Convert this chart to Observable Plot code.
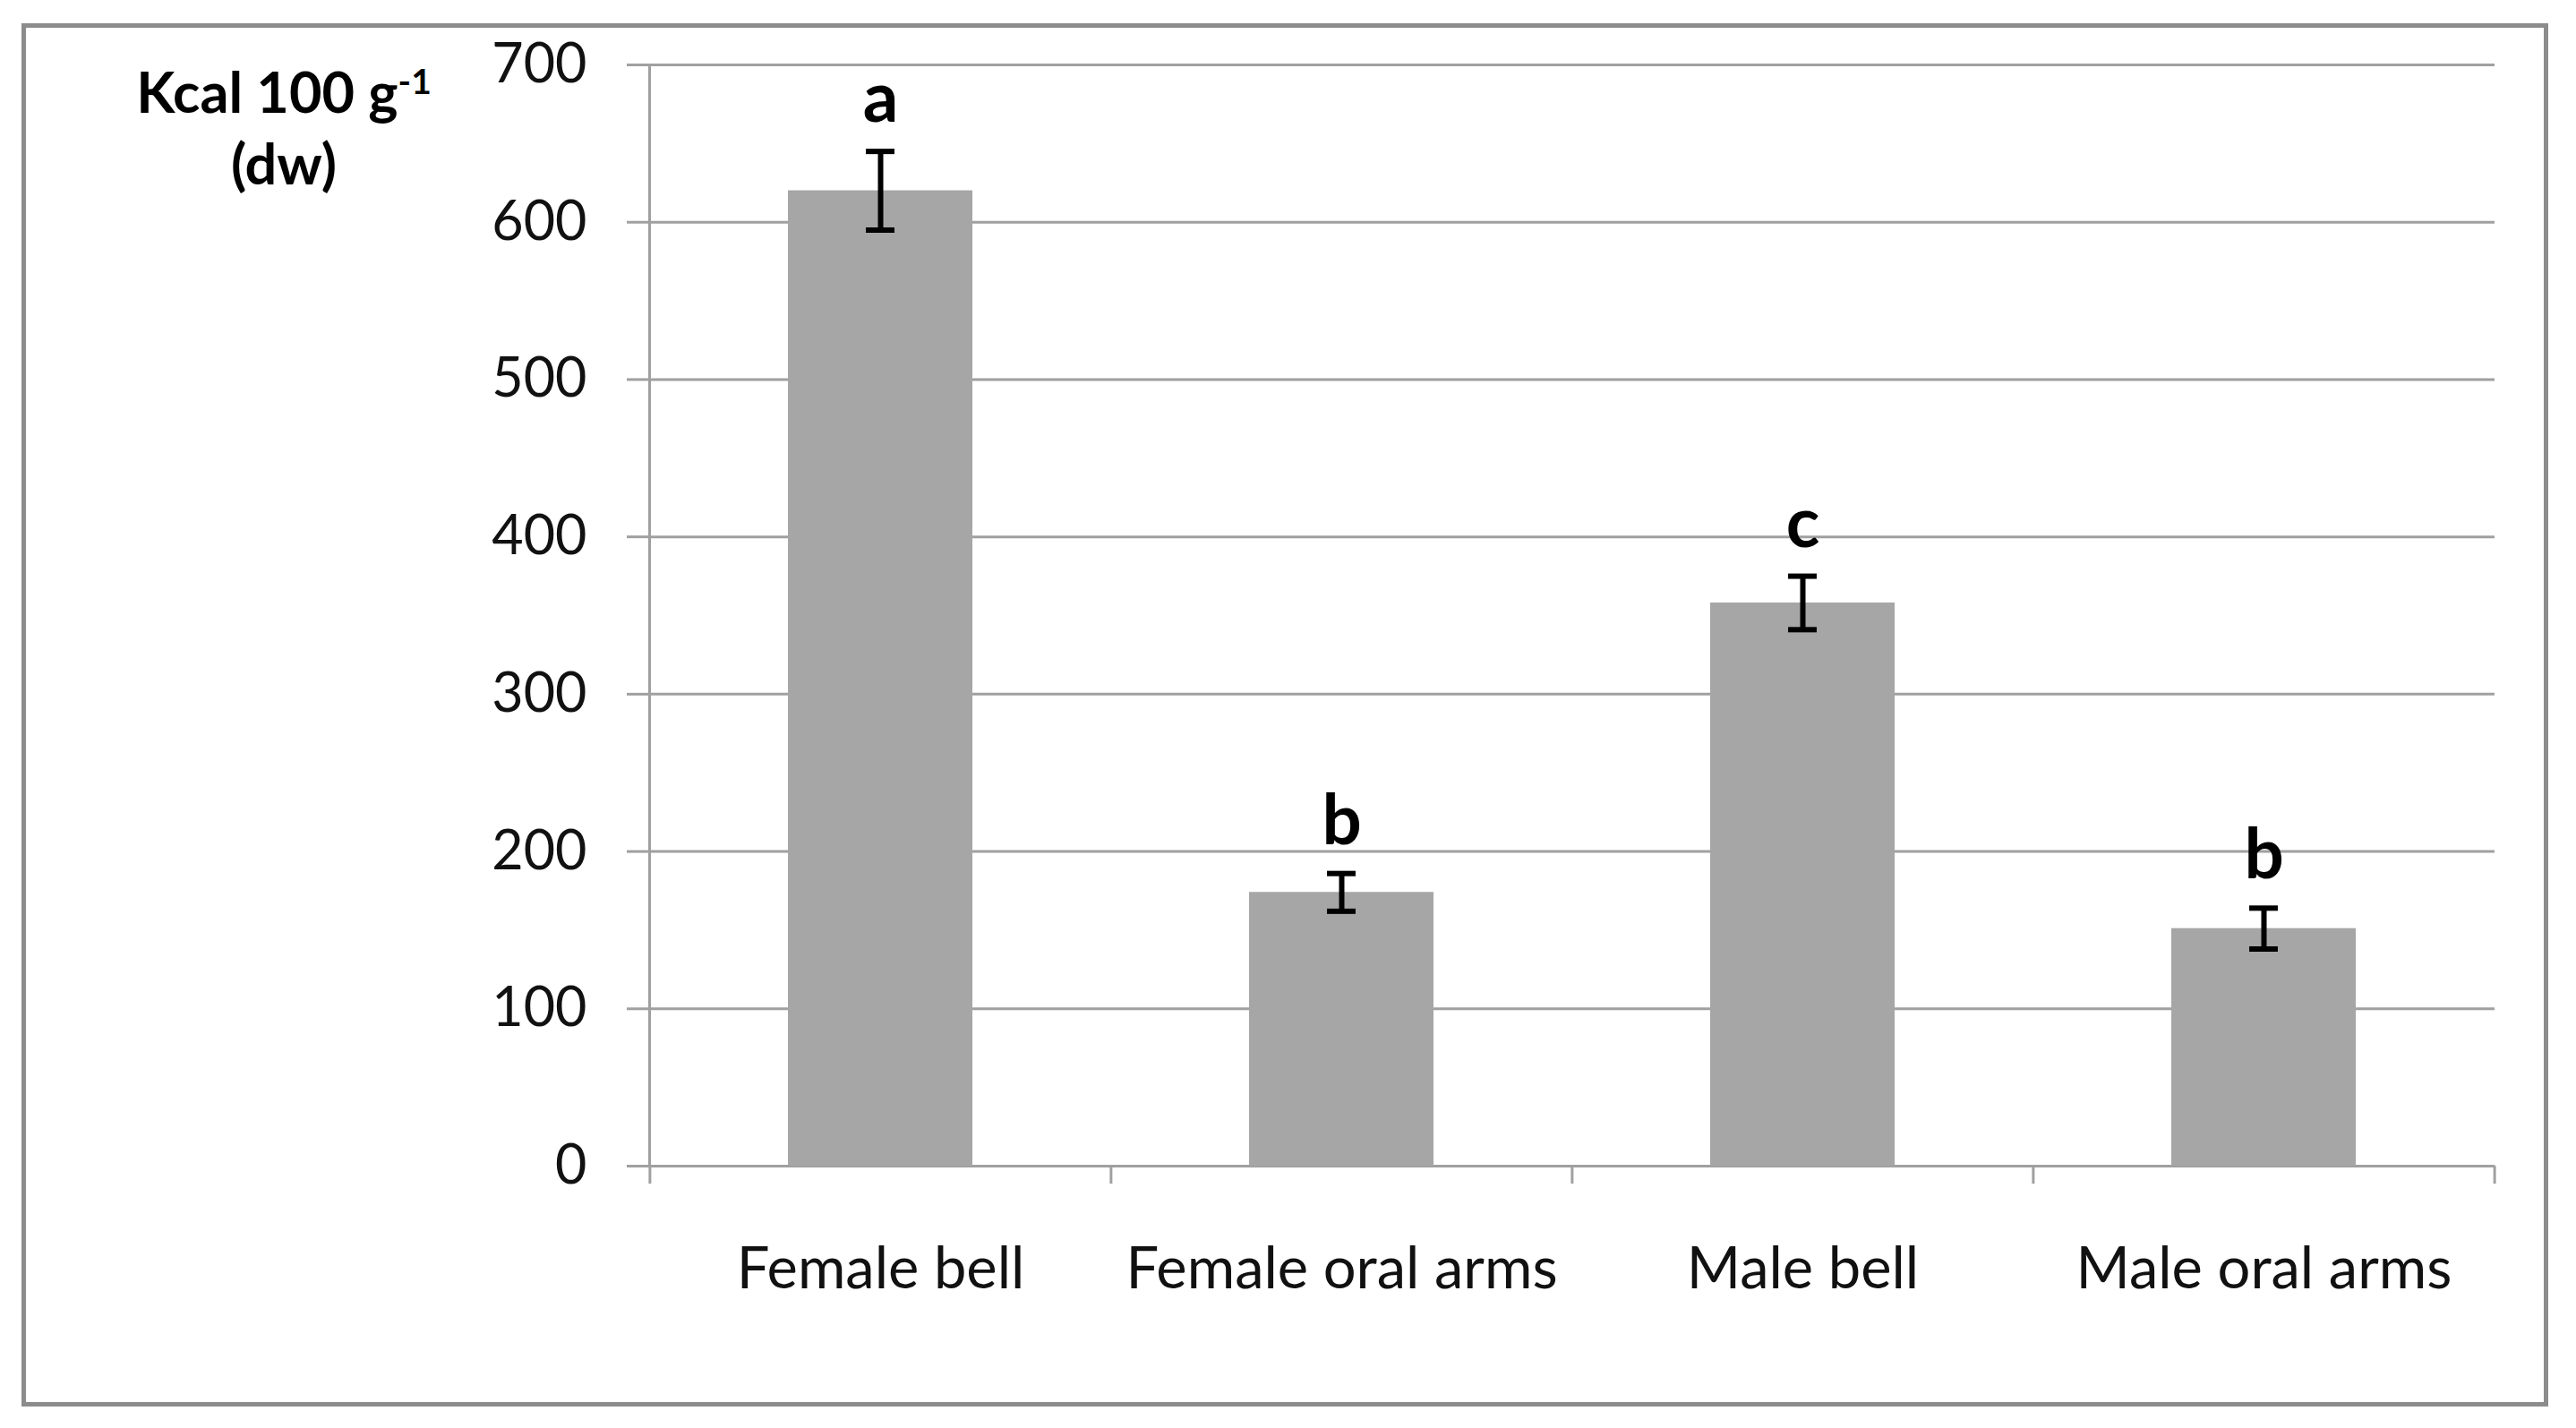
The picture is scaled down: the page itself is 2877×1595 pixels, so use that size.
<!DOCTYPE html>
<html>
<head>
<meta charset="utf-8">
<script src="https://cdn.jsdelivr.net/npm/d3@7"></script>
<script src="https://cdn.jsdelivr.net/npm/@observablehq/plot@0.6"></script>
<style>
  html, body { margin: 0; padding: 0; background: #fff; }
  #wrap { position: relative; width: 2877px; height: 1595px; overflow: hidden; }
  #border { position: absolute; left: 24px; top: 26px; width: 2812px; height: 1535px; border: 5px solid #8c8c8c; }
  #chart { position: absolute; left: 0; top: 0; }
  #ytitle { position: absolute; left: 317px; top: 62px; transform: translateX(-50%); text-align: center;
            font-family: Lato, sans-serif; font-weight: bold; font-size: 63px; line-height: 80px; color: #000; white-space: nowrap; }
  #ytitle sup { font-size: 0.62em; line-height: 0; vertical-align: 0.55em; }
</style>
</head>
<body>
<div id="wrap">
  <div id="border"></div>
  <div id="chart"></div>
  <div id="ytitle">Kcal 100 g<sup>-1</sup><br>(dw)</div>
</div>
<script>
const categories = ["Female bell", "Female oral arms", "Male bell", "Male oral arms"];
const means = [620, 174, 358, 151];
const errors = [25, 12, 17, 13];
const letters = ["a", "b", "c", "b"];
const yTicks = [0, 100, 200, 300, 400, 500, 600, 700];

const data = categories.map((c, i) => ({
  cat: c, mean: means[i], lo: means[i] - errors[i], hi: means[i] + errors[i], letter: letters[i]
}));

const W = 2877, H = 1595, ML = 725, MR = 91, MT = 72, MB = 293;
const step = (W - ML - MR) / categories.length;
const bandW = step * 0.4;
const capW = 32;
const gray = "#a0a0a0";

const chart = Plot.plot({
  width: W, height: H,
  marginLeft: ML, marginRight: MR, marginTop: MT, marginBottom: MB,
  style: { fontFamily: "Lato, sans-serif", background: "transparent", overflow: "visible" },
  x: { type: "band", domain: categories, paddingInner: 0.6, paddingOuter: 0.3, axis: null },
  y: { domain: [0, 700], axis: null },
  marks: [
    Plot.gridY(yTicks, { stroke: gray, strokeOpacity: 1, strokeWidth: 3 }),
    Plot.axisY(yTicks, { tickSize: 25, tickPadding: 45, stroke: gray, strokeWidth: 3, fontSize: 61, fill: "#111", label: null }),
    Plot.frame({ anchor: "left", stroke: gray, strokeWidth: 3 }),
    Plot.ruleY([0], { stroke: gray, strokeWidth: 3 }),
    Plot.axisX(categories, { tickSize: 20, tickFormat: () => "", dx: -step / 2, stroke: gray, strokeWidth: 3, label: null }),
    Plot.axisX([categories[categories.length - 1]], { tickSize: 20, tickFormat: () => "", dx: step / 2, stroke: gray, strokeWidth: 3, label: null }),
    Plot.axisX(categories, { tickSize: 0, tickPadding: 90, fontSize: 65, fill: "#111", label: null }),
    Plot.barY(data, { x: "cat", y: "mean", fill: "#a6a6a6" }),
    Plot.ruleX(data, { x: "cat", y1: "lo", y2: "hi", stroke: "#000", strokeWidth: 6 }),
    Plot.tickY(data, { x: "cat", y: "lo", stroke: "#000", strokeWidth: 6, insetLeft: (bandW - capW) / 2, insetRight: (bandW - capW) / 2 }),
    Plot.tickY(data, { x: "cat", y: "hi", stroke: "#000", strokeWidth: 6, insetLeft: (bandW - capW) / 2, insetRight: (bandW - capW) / 2 }),
    Plot.text(data, { x: "cat", y: "hi", text: "letter", lineAnchor: "bottom", dy: -33, fontSize: 78, fontWeight: "bold", fill: "#000" })
  ]
});
document.getElementById("chart").appendChild(chart);
</script>
</body>
</html>
